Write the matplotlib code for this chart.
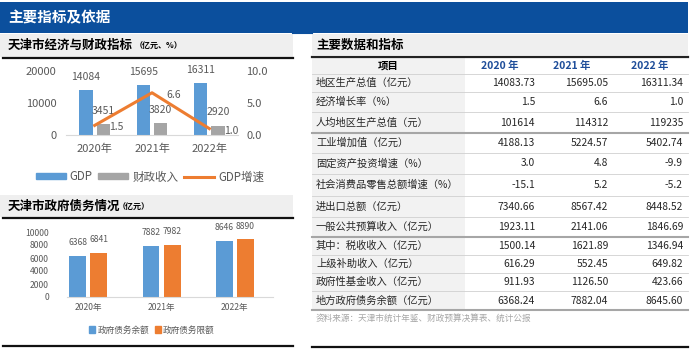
import matplotlib
matplotlib.use("Agg")
import matplotlib.pyplot as plt
from matplotlib.lines import Line2D
from matplotlib.patches import Patch, Rectangle

plt.rcParams['font.family'] = ['Noto Sans CJK SC', 'DejaVu Sans']

# 数据
years = ['2020年', '2021年', '2022年']
gdp = [14084, 15695, 16311]
fiscal = [3451, 3820, 2920]
gdp_growth = [1.5, 6.6, 1.0]
debt_balance = [6368, 7882, 8646]
debt_limit = [6841, 7982, 8890]

table_cols = ['项目', '2020 年', '2021 年', '2022 年']
table_items = ['地区生产总值（亿元）', '经济增长率（%）', '人均地区生产总值（元）',
               '工业增加值（亿元）', '固定资产投资增速（%）', '社会消费品零售总额增速（%）',
               '进出口总额（亿元）', '一般公共预算收入（亿元）', '其中：税收收入（亿元）',
               '上级补助收入（亿元）', '政府性基金收入（亿元）', '地方政府债务余额（亿元）']
table_2020 = ['14083.73', '1.5', '101614', '4188.13', '3.0', '-15.1',
              '7340.66', '1923.11', '1500.14', '616.29', '911.93', '6368.24']
table_2021 = ['15695.05', '6.6', '114312', '5224.57', '4.8', '5.2',
              '8567.42', '2141.06', '1621.89', '552.45', '1126.50', '7882.04']
table_2022 = ['16311.34', '1.0', '119235', '5402.74', '-9.9', '-5.2',
              '8448.52', '1846.69', '1346.94', '649.82', '423.66', '8645.60']
source = '资料来源：天津市统计年鉴、财政预算决算表、统计公报'

BLUE = '#5B9BD5'
GRAY = '#A5A5A5'
ORANGE = '#ED7D31'
NAVY = '#0B4F9D'
TICK = '#595959'

W, H = 700, 350
fig = plt.figure(figsize=(7, 3.5), dpi=100)


def fx(x):
    return x / W


def fy(y):
    return 1 - y / H


def rect(x0, y0, x1, y1, color):
    fig.patches.append(Rectangle((fx(x0), fy(y1)), (x1 - x0) / W, (y1 - y0) / H,
                                 transform=fig.transFigure, color=color, lw=0, zorder=0))


def hline(x0, x1, y, color, lw):
    fig.add_artist(Line2D([fx(x0), fx(x1)], [fy(y), fy(y)], transform=fig.transFigure,
                          color=color, lw=lw))


# 顶部标题栏
rect(0, 2, 688, 33, NAVY)
fig.text(fx(8), fy(17), '主要指标及依据', color='white', fontsize=10.5,
         fontweight='bold', va='center')

# 左侧小标题
rect(0, 34, 293, 57, '#EFEFEF')
fig.text(fx(8), fy(45.5), '天津市经济与财政指标', fontsize=9, fontweight='bold', va='center')
fig.text(fx(135), fy(46), '（亿元、%）', fontsize=5.8, fontweight='bold', va='center')
hline(3, 293, 58, '#111111', 1.6)

rect(0, 195, 293, 217, '#EFEFEF')
fig.text(fx(8), fy(206.5), '天津市政府债务情况', fontsize=9, fontweight='bold', va='center')
fig.text(fx(118), fy(207), '（亿元）', fontsize=5.8, fontweight='bold', va='center')
hline(3, 293, 218, '#111111', 1.6)
hline(3, 293, 346, '#111111', 1.6)

# 图1：经济与财政
x = range(len(years))
ax1 = fig.add_axes([fx(66), fy(135), 172 / W, 64 / H])
ax1.bar([i - 0.15 for i in x], gdp, width=0.23, color=BLUE, label='GDP')
ax1.bar([i + 0.15 for i in x], fiscal, width=0.23, color=GRAY, label='财政收入')
ax1.set_ylim(0, 20000)
ax1.set_yticks([0, 10000, 20000])
ax1.set_xlim(-0.5, 2.5)
ax1.set_xticks(list(x))
ax1.set_xticklabels(years)
for s in ['top', 'right', 'left']:
    ax1.spines[s].set_visible(False)
ax1.spines['bottom'].set_color('#D9D9D9')
ax1.tick_params(length=0, labelsize=8, colors=TICK)
ax1.tick_params(axis='x', pad=6)
ax1.tick_params(axis='y', pad=7)
for i, v in enumerate(gdp):
    ax1.annotate(str(v), (i - 0.15, v), xytext=(0, 9.5), textcoords='offset points',
                 ha='center', va='center', fontsize=7.5, color=TICK)
for i, v in enumerate(fiscal):
    ax1.annotate(str(v), (i + 0.15, v), xytext=(0, 9.5), textcoords='offset points',
                 ha='center', va='center', fontsize=7.5, color=TICK)

ax1r = ax1.twinx()
ax1r.plot(list(x), gdp_growth, color=ORANGE, lw=2.2, label='GDP增速')
ax1r.set_ylim(0, 10)
ax1r.set_yticks([0, 5, 10])
ax1r.set_yticklabels(['0.0', '5.0', '10.0'])
for s in ax1r.spines.values():
    s.set_visible(False)
ax1r.tick_params(length=0, labelsize=8, colors=TICK, pad=6)
for i, v in enumerate(gdp_growth):
    ax1r.annotate(f'{v:.1f}', (i, v), xytext=(15.5, -1.5), textcoords='offset points',
                  ha='center', va='center', fontsize=7.5, color=TICK)

h1 = [Patch(color=BLUE), Patch(color=GRAY), Line2D([], [], color=ORANGE, lw=2.2)]
fig.legend(h1, ['GDP', '财政收入', 'GDP增速'], loc='center', bbox_to_anchor=(fx(150), fy(177)),
           ncol=3, frameon=False, fontsize=8.3, handlelength=2.6, handleheight=0.45,
           handletextpad=0.35, columnspacing=0.5, labelcolor=TICK)

# 图2：政府债务
ax2 = fig.add_axes([fx(67), fy(297), 206 / W, 65 / H])
ax2.bar([i - 0.145 for i in x], debt_balance, width=0.23, color=BLUE)
ax2.bar([i + 0.145 for i in x], debt_limit, width=0.23, color=ORANGE)
ax2.set_ylim(0, 10000)
ax2.set_yticks(range(0, 10001, 2000))
ax2.set_xlim(-0.29, 2.52)
ax2.set_xticks(list(x))
ax2.set_xticklabels(years)
for s in ['top', 'right', 'left']:
    ax2.spines[s].set_visible(False)
ax2.spines['bottom'].set_color('#D9D9D9')
ax2.tick_params(length=0, labelsize=6.2, colors=TICK)
ax2.tick_params(axis='y', pad=13)
ax2.tick_params(axis='x', pad=4)
for i, v in enumerate(debt_balance):
    ax2.annotate(str(v), (i - 0.145, v), xytext=(0, 9.5), textcoords='offset points',
                 ha='center', va='center', fontsize=6.2, color=TICK)
for i, v in enumerate(debt_limit):
    ax2.annotate(str(v), (i + 0.145, v), xytext=(0, 9.5), textcoords='offset points',
                 ha='center', va='center', fontsize=6.2, color=TICK)

h2 = [Patch(color=BLUE), Patch(color=ORANGE)]
fig.legend(h2, ['政府债务余额', '政府债务限额'], loc='center', bbox_to_anchor=(fx(152), fy(330)),
           ncol=2, frameon=False, fontsize=6.2, handlelength=0.7, handleheight=0.7,
           handletextpad=0.3, columnspacing=0.6, labelcolor=TICK)

# 右侧表格
hline(293, 312, 33, NAVY, 1.5)
rect(312, 34, 688, 55, '#EFEFEF')
fig.text(fx(316), fy(45), '主要数据和指标', fontsize=9, fontweight='bold', va='center')
hline(312, 688, 56.5, '#222222', 1.6)

bounds = [57, 74, 92, 112, 133, 153, 174, 196, 217, 237, 255, 273, 291, 310]
rect(312, 58, 465, 310, '#F2F2F2')
thick = {133, 237, 310}
for b in bounds[1:]:
    if b in thick:
        hline(312, 688, b, '#A6A6A6', 1.5)
    else:
        hline(312, 688, b, '#D0D0D0', 0.6)

col_right = [535, 608, 683]
col_head = [500, 572, 650]
yc = (bounds[0] + bounds[1]) / 2
fig.text(fx(388), fy(yc), table_cols[0], fontsize=7.5, fontweight='bold', ha='center', va='center')
for cx, t in zip(col_head, table_cols[1:]):
    fig.text(fx(cx), fy(yc), t, fontsize=7.5, fontweight='bold', ha='center', va='center',
             color='#1F4E9A')
for r, item in enumerate(table_items):
    yc = (bounds[r + 1] + bounds[r + 2]) / 2
    fig.text(fx(316), fy(yc), item, fontsize=7.4, va='center', color='#262626')
    for cx, vals in zip(col_right, [table_2020, table_2021, table_2022]):
        fig.text(fx(cx), fy(yc), vals[r], fontsize=7.4, ha='right', va='center', color='#262626')

fig.text(fx(316), fy(318), source, fontsize=6.2, va='center', color='#A6A6A6')
hline(312, 688, 347, '#111111', 1.6)

fig.savefig('out.png', dpi=100)
